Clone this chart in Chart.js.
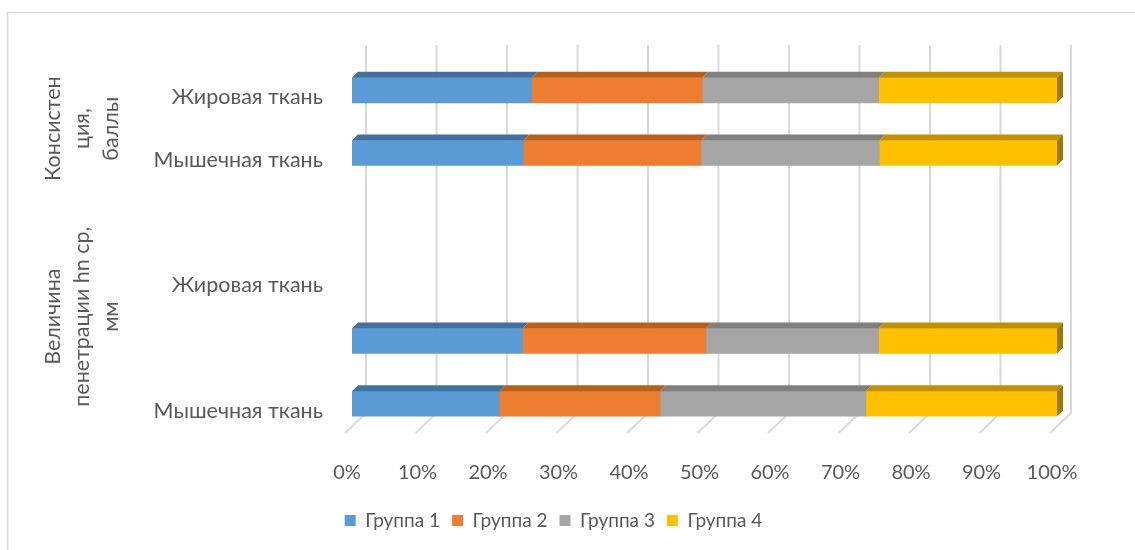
<!DOCTYPE html>
<html lang="ru">
<head>
  <meta charset="UTF-8" />
  <title>Консистенция и пенетрация</title>
  <script src="https://cdn.jsdelivr.net/npm/chart.js"></script>
  <style>
    body { margin: 0; background: #fff; }
    #wrap { width: 1135px; height: 550px; position: relative; }
  </style>
</head>
<body>
  <div id="wrap">
    <canvas id="chart" width="1135" height="550"></canvas>
  </div>

  <script>
    // categories, top to bottom (empty strings = rows without a label)
    const categories = ['Жировая ткань', 'Мышечная ткань', '', 'Жировая ткань', '', 'Мышечная ткань'];
    const seriesNames = ['Группа 1', 'Группа 2', 'Группа 3', 'Группа 4'];
    // shares, %
    const group1 = [25.5, 24.3, null, null, 24.2, 20.9];
    const group2 = [24.2, 25.2, null, null, 26.0, 22.8];
    const group3 = [25.0, 25.3, null, null, 24.5, 29.2];
    const group4 = [25.3, 25.2, null, null, 25.3, 27.1];
    const xTicks = [0, 10, 20, 30, 40, 50, 60, 70, 80, 90, 100];
    // outer category level
    const groupNames = [['Консистен', 'ция,', 'баллы'], ['Величина', 'пенетрации hn ср,', 'мм']];
    const groupSpans = [[0, 1], [2, 5]];

    const colors = ['#5B9BD5', '#ED7D31', '#A5A5A5', '#FFC000'];
    const topColors = ['#41719C', '#B9601F', '#7F7F7F', '#BF9000'];
    const sideColor = '#A07800';
    const FONT = 'Lato';
    const TEXT = '#595959';
    const DEPTH = 6;

    // frame, back-wall gridlines and floor
    const wallPlugin = {
      id: 'wall',
      beforeDraw(chart) {
        const ctx = chart.ctx;
        ctx.save();
        ctx.strokeStyle = '#D9D9D9';
        ctx.lineWidth = 1.5;
        ctx.beginPath();
        ctx.moveTo(7.5, 560);
        ctx.lineTo(7.5, 12.5);
        ctx.lineTo(1140, 12.5);
        ctx.stroke();
        ctx.restore();
      },
      beforeDatasetsDraw(chart) {
        const ctx = chart.ctx;
        const xs = chart.scales.x;
        ctx.save();
        ctx.strokeStyle = '#D9D9D9';
        ctx.lineWidth = 2;
        xTicks.forEach(v => {
          const px = xs.getPixelForValue(v) + 14;
          ctx.beginPath();
          ctx.moveTo(px, 45);
          ctx.lineTo(px, 413);
          ctx.lineTo(px - 21, 433);
          ctx.stroke();
        });
        ctx.restore();
      },
      afterDatasetsDraw(chart) {
        const ctx = chart.ctx;
        ctx.save();
        chart.data.datasets.forEach((ds, di) => {
          const meta = chart.getDatasetMeta(di);
          meta.data.forEach((bar, i) => {
            if (ds.data[i] == null) return;
            const p = bar.getProps(['x', 'y', 'base', 'height'], true);
            const top = p.y - p.height / 2;
            const bottom = p.y + p.height / 2;
            ctx.fillStyle = topColors[di];
            ctx.beginPath();
            ctx.moveTo(p.base, top);
            ctx.lineTo(p.base + DEPTH, top - DEPTH);
            ctx.lineTo(p.x + DEPTH, top - DEPTH);
            ctx.lineTo(p.x, top);
            ctx.closePath();
            ctx.fill();
            if (di === chart.data.datasets.length - 1) {
              ctx.fillStyle = sideColor;
              ctx.beginPath();
              ctx.moveTo(p.x, top);
              ctx.lineTo(p.x + DEPTH, top - DEPTH);
              ctx.lineTo(p.x + DEPTH, bottom - DEPTH);
              ctx.lineTo(p.x, bottom);
              ctx.closePath();
              ctx.fill();
            }
          });
        });
        ctx.restore();
      },
      afterDraw(chart) {
        const ctx = chart.ctx;
        const ys = chart.scales.y;
        ctx.save();
        ctx.fillStyle = TEXT;
        ctx.font = '21.5px ' + FONT;
        ctx.textAlign = 'center';
        ctx.textBaseline = 'middle';
        groupNames.forEach((lines, g) => {
          const cy = (ys.getPixelForValue(groupSpans[g][0]) + ys.getPixelForValue(groupSpans[g][1])) / 2 + 7;
          lines.forEach((t, k) => {
            ctx.save();
            ctx.translate(53 + k * 29, cy);
            ctx.rotate(-Math.PI / 2);
            ctx.fillText(t, 0, 0);
            ctx.restore();
          });
        });
        ctx.restore();
      }
    };

    const series = [group1, group2, group3, group4];

    new Chart(document.getElementById('chart'), {
      type: 'bar',
      data: {
        labels: categories,
        datasets: series.map((d, i) => ({
          label: seriesNames[i],
          data: d,
          backgroundColor: colors[i],
          borderWidth: 0,
          barThickness: 25
        }))
      },
      options: {
        indexAxis: 'y',
        responsive: false,
        animation: false,
        layout: { padding: { left: 50, right: 78, top: 59, bottom: 10 } },
        scales: {
          x: {
            stacked: true,
            min: 0,
            max: 100,
            afterBuildTicks(axis) { axis.ticks = xTicks.map(v => ({ value: v })); },
            afterFit(axis) { axis.height = 64; },
            grid: { display: false, drawTicks: false },
            border: { display: false },
            ticks: {
              padding: 26,
              labelOffset: -5,
              color: TEXT,
              font: { family: FONT, size: 20 },
              callback: v => v + '%'
            }
          },
          y: {
            stacked: true,
            afterFit(axis) { axis.width = 302; },
            grid: { display: false, drawTicks: false },
            border: { display: false },
            ticks: {
              padding: 29,
              labelOffset: 7,
              color: TEXT,
              font: { family: FONT, size: 21.5 }
            }
          }
        },
        plugins: {
          legend: {
            position: 'bottom',
            labels: {
              boxWidth: 11,
              boxHeight: 11,
              padding: 12,
              color: TEXT,
              font: { family: FONT, size: 19 }
            }
          },
          tooltip: { enabled: false }
        }
      },
      plugins: [wallPlugin]
    });
  </script>
</body>
</html>
